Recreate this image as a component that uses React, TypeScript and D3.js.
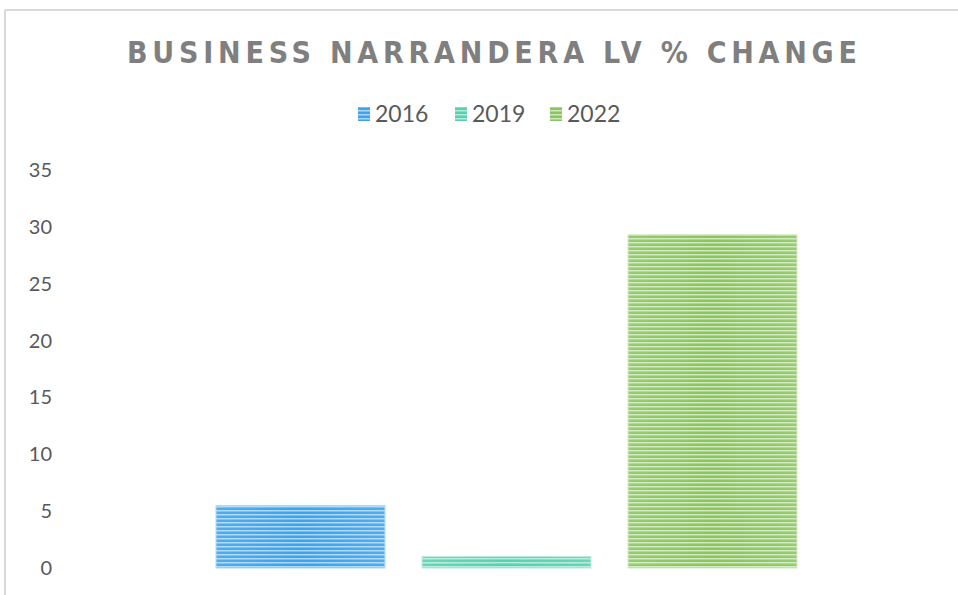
import React from "react";
import * as d3 from "d3";

const categories = ["Business"];
const seriesNames = ["2016", "2019", "2022"];
const seriesValues = [5.5, 1.0, 29.3];
const yTicks = [0, 5, 10, 15, 20, 25, 30, 35];
const title = "BUSINESS NARRANDERA LV % CHANGE";

const colors = ["#3ea2ea", "#5ad0b0", "#8ac660"];
const lightColors = ["#a9d8f8", "#b2ecdc", "#cfe9bd"];

export default function App() {
  const W = 958, H = 595;
  const y = d3.scaleLinear().domain([0, 35]).range([568, 170]);
  const x0 = d3.scaleBand().domain(categories).range([58, 955]).paddingOuter(0.272).paddingInner(0);
  const x1 = d3.scaleBand().domain(seriesNames).range([0, x0.bandwidth()]).paddingInner(0.18).paddingOuter(0);

  const legendX = [358, 455, 550];

  return (
    <svg width={W} height={H} style={{ position: "absolute", left: 0, top: 0, background: "#fff" }}>
      <defs>
        {seriesNames.map((s, i) => (
          <pattern key={s} id={`stripe${i}`} patternUnits="userSpaceOnUse" width={8} height={4} y={y(0)}>
            <rect width={8} height={4} fill={colors[i]} />
            <rect y={2} width={8} height={1.5} fill={lightColors[i]} />
          </pattern>
        ))}
        {seriesNames.map((s, i) => (
          <linearGradient key={s} id={`fade${i}`} x1="0" x2="1" y1="0" y2="0">
            <stop offset="0" stopColor="#fff" stopOpacity={0.1} />
            <stop offset="0.5" stopColor="#fff" stopOpacity={0.0} />
            <stop offset="1" stopColor="#fff" stopOpacity={0.1} />
          </linearGradient>
        ))}
      </defs>
      <line x1={5} y1={10} x2={W} y2={10} stroke="#d9d9d9" strokeWidth={2} />
      <line x1={5} y1={10} x2={5} y2={H} stroke="#d9d9d9" strokeWidth={2} />

      <text x={492} y={63} textAnchor="middle" fontFamily="'DejaVu Sans Condensed', 'DejaVu Sans', sans-serif" fontWeight={700}
        fontStretch="condensed" fontSize={30} fill="#7f7f7f" textLength={730} lengthAdjust="spacing">{title}</text>

      {seriesNames.map((s, i) => (
        <g key={s}>
          <rect x={legendX[i]} y={107} width={12} height={14} fill={`url(#stripe${i})`} />
          <text x={legendX[i] + 17} y={122} fontFamily="Lato, 'Noto Sans', sans-serif" fontSize={23} fill="#595959">{s}</text>
        </g>
      ))}

      {yTicks.map(t => (
        <text key={t} x={52} y={y(t) + 7} textAnchor="end" fontFamily="Lato, 'Noto Sans', sans-serif" fontSize={20} fill="#595959">{t}</text>
      ))}

      {categories.map(c => (
        <g key={c} transform={`translate(${x0(c)},0)`}>
          {seriesNames.map((s, i) => {
            const v = seriesValues[i];
            const bx = x1(s)!;
            const by = y(v);
            const bh = y(0) - y(v);
            return (
              <g key={s}>
                <rect x={bx} y={by} width={x1.bandwidth()} height={bh} fill={`url(#stripe${i})`} stroke={lightColors[i]} strokeWidth={1} />
                <rect x={bx} y={by} width={x1.bandwidth()} height={bh} fill={`url(#fade${i})`} />
              </g>
            );
          })}
        </g>
      ))}
    </svg>
  );
}
